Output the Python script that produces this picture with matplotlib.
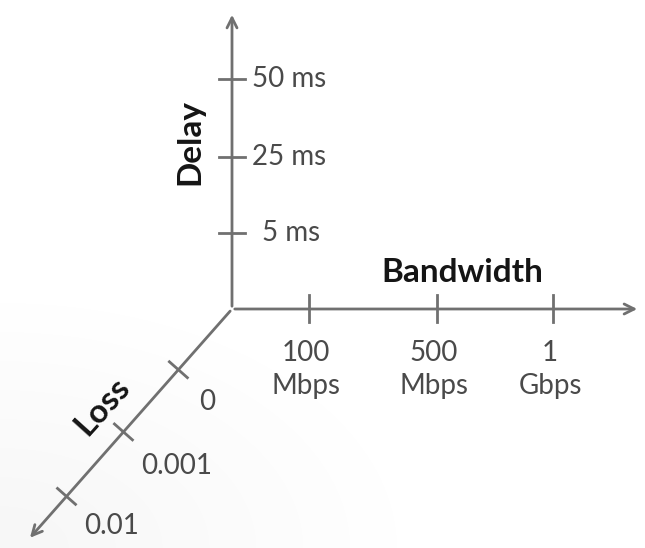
import numpy as np
import matplotlib.pyplot as plt

# etiquetas dos eixos
delay_labels = ["5 ms", "25 ms", "50 ms"]
bw_labels = ["100\nMbps", "500\nMbps", "1\nGbps"]
loss_labels = ["0", "0.001", "0.01"]

# geometria do diagrama (em pixels da figura)
W, H = 645, 548
origem = np.array([232.0, 309.0])
delay_pos = [76, 152, 230]          # distancia acima da origem
bw_pos = [77, 205, 321]             # distancia a direita da origem
loss_dir = np.array([-204.0, 231.0])
loss_dir = loss_dir / np.hypot(*loss_dir)
loss_pos = [81, 164, 250]           # distancia ao longo da diagonal

cor_linha = "#707070"
cor_texto = "#4a4a4a"
cor_titulo = "#151515"
fonte = "Lato"
tam = 20
tam_t = 24

fig = plt.figure(figsize=(W / 100, H / 100), dpi=100)
ax = fig.add_axes([0, 0, 1, 1])
ax.set_xlim(0, W)
ax.set_ylim(H, 0)
ax.axis("off")

# leve sombreado no canto inferior esquerdo
yy, xx = np.mgrid[0:H, 0:W]
sombra = np.clip(1 - np.hypot(xx / 420, (H - yy) / 260), 0, 1) * 0.07
ax.imshow(sombra, cmap="Greys", vmin=0, vmax=1, extent=(0, W, H, 0),
          zorder=0, interpolation="bilinear")

seta = dict(arrowstyle="->", color=cor_linha, lw=2, mutation_scale=18)

# eixo vertical (Delay)
ax.annotate("", xy=(origem[0], 12), xytext=tuple(origem), arrowprops=seta)
for d, lab in zip(delay_pos, delay_labels):
    y = origem[1] - d
    ax.plot([origem[0] - 13, origem[0] + 13], [y, y], color=cor_linha, lw=2)
    dx = 30 if lab == "5 ms" else 20
    ax.text(origem[0] + dx, y, lab, ha="left", va="center", fontsize=tam,
            color=cor_texto, family=fonte)
ax.text(190, 142, "Delay", rotation=90, ha="center", va="center",
        fontsize=tam_t, fontweight="bold", color=cor_titulo, family=fonte)

# eixo horizontal (Bandwidth)
ax.annotate("", xy=(640, origem[1]), xytext=tuple(origem), arrowprops=seta)
for d, lab in zip(bw_pos, bw_labels):
    x = origem[0] + d
    ax.plot([x, x], [origem[1] - 14, origem[1] + 13], color=cor_linha, lw=2)
    ax.text(x - 3, origem[1] + 31, lab, ha="center", va="top", fontsize=tam,
            color=cor_texto, family=fonte, linespacing=1.35)
ax.text(462, 273, "Bandwidth", ha="center", va="center", fontsize=tam_t,
        fontweight="bold", color=cor_titulo, family=fonte)

# eixo diagonal (Loss)
fim = origem + loss_dir * 308
ax.annotate("", xy=tuple(fim), xytext=tuple(origem), arrowprops=seta)
perp = np.array([loss_dir[1], -loss_dir[0]])
desloc = [(29, 32), (53, 34), (45, 30)]
for d, lab, (ox, oy) in zip(loss_pos, loss_labels, desloc):
    p = origem + loss_dir * d
    a = p - perp * 12
    b = p + perp * 12
    ax.plot([a[0], b[0]], [a[1], b[1]], color=cor_linha, lw=2)
    ax.text(p[0] + ox, p[1] + oy, lab, ha="center", va="center", fontsize=tam,
            color=cor_texto, family=fonte)
ax.text(102, 406, "Loss", rotation=48, ha="center", va="center",
        fontsize=tam_t, fontweight="bold", color=cor_titulo, family=fonte)

fig.savefig("out.png", dpi=100)
